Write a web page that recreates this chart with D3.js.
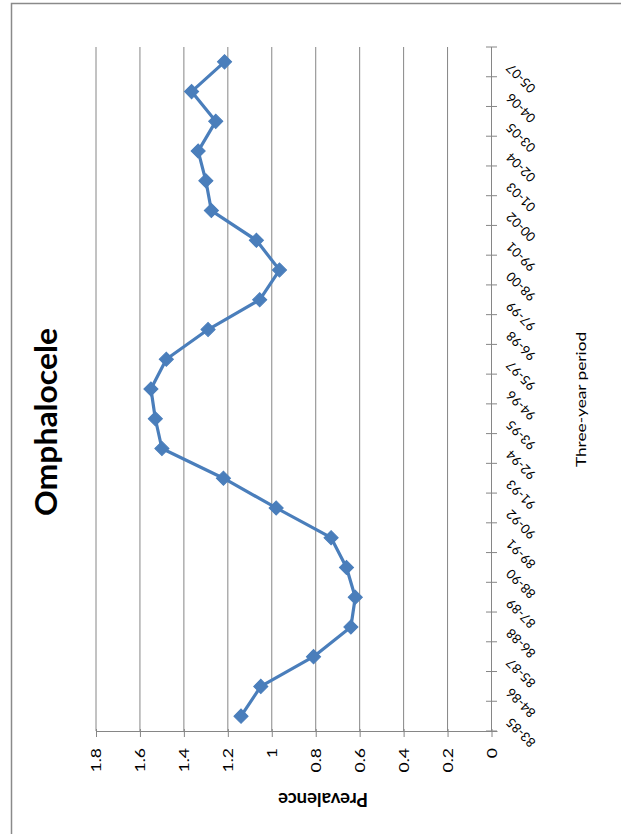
<!DOCTYPE html>
<html>
<head>
<meta charset="utf-8">
<script src="https://cdn.jsdelivr.net/npm/d3@7"></script>
<style>
  html, body { margin: 0; padding: 0; background: #fff; }
  svg { display: block; }
  text { font-family: Lato, "Liberation Sans", Arial, sans-serif; fill: #000; }
</style>
</head>
<body>
<svg id="chart" width="621" height="834"></svg>
<script>
// Three-year periods (oldest first)
const categories = ["83-85","84-86","85-87","86-88","87-89","88-90","89-91","90-92","91-93","92-94",
  "93-95","94-96","95-97","96-98","97-99","98-00","99-01","00-02","01-03","02-04","03-05","04-06","05-07"];
// Omphalocele prevalence for each period
const prevalence = [1.14,1.05,0.81,0.64,0.62,0.66,0.73,0.98,1.22,1.50,
  1.53,1.55,1.48,1.29,1.055,0.965,1.07,1.275,1.30,1.335,1.255,1.365,1.215];
// Value axis ticks
const valueTicks = [0,0.2,0.4,0.6,0.8,1,1.2,1.4,1.6,1.8];

const titleText = "Omphalocele";
const valueTitle = "Prevalence";
const categoryTitle = "Three-year period";

const svg = d3.select("#chart");
const gridColor = "#868686";
const seriesColor = "#4a7ebb";

// Page is laid out sideways: values run right-to-left, periods run bottom-to-top
const plot = { left: 96, right: 491.5, top: 47, bottom: 731 };

const x = d3.scaleLinear().domain([0, 1.8]).range([plot.right, plot.left]);
const y = d3.scaleBand().domain(categories).range([plot.bottom, plot.top]).paddingInner(0).paddingOuter(0);
const yc = c => y(c) + y.bandwidth() / 2;

// Outer frame
svg.append("path")
  .attr("d", `M11.5,834 L11.5,3.5 L621,3.5`)
  .attr("fill", "none").attr("stroke", "#8a8a8a").attr("stroke-width", 1.5);

// Gridlines
svg.append("g").selectAll("line").data(valueTicks.filter(v => v > 0)).join("line")
  .attr("x1", d => x(d)).attr("x2", d => x(d))
  .attr("y1", plot.top).attr("y2", plot.bottom)
  .attr("stroke", gridColor).attr("stroke-width", 1);

// Value axis along the bottom
const valueAxis = d3.axisBottom(x).tickValues(valueTicks).tickSize(6).tickFormat(d => String(d));
const gv = svg.append("g").attr("transform", `translate(0,${plot.bottom})`).call(valueAxis);
gv.select(".domain").attr("stroke", gridColor).attr("d", `M${plot.left},0.5H${plot.right + 6}`);
gv.selectAll(".tick line").attr("stroke", gridColor).attr("y1", -2);
gv.selectAll(".tick text")
  .attr("font-size", 13.5).attr("fill", "#000")
  .attr("text-anchor", "end")
  .attr("y", 0).attr("dy", "0.35em")
  .attr("transform", "translate(0,17) rotate(-90) scale(1.3,1)");

// Category axis along the right edge
const ga = svg.append("g");
ga.append("line")
  .attr("x1", plot.right).attr("x2", plot.right)
  .attr("y1", plot.top).attr("y2", plot.bottom)
  .attr("stroke", gridColor);
ga.selectAll("line.tick").data(categories.map(c => y(c) + y.bandwidth()).concat([plot.top])).join("line")
  .attr("class", "tick")
  .attr("x1", plot.right - 5.5).attr("x2", plot.right + 5.5)
  .attr("y1", d => d).attr("y2", d => d)
  .attr("stroke", gridColor);
ga.selectAll("text").data(categories).join("text")
  .attr("font-size", 13)
  .attr("text-anchor", "end")
  .attr("dy", "0.35em")
  .attr("transform", d => `translate(${plot.right + 17},${yc(d) + 4}) rotate(-135)`)
  .text(d => d);

// Series line
const line = d3.line().x(d => x(d.v)).y(d => yc(d.c));
const pts = categories.map((c, i) => ({ c, v: prevalence[i] }));
svg.append("path").datum(pts)
  .attr("d", line)
  .attr("fill", "none").attr("stroke", seriesColor).attr("stroke-width", 3.2)
  .attr("stroke-linejoin", "round");

// Diamond markers
const diamond = d3.symbol().type(d3.symbolSquare).size(100);
svg.append("g").selectAll("path").data(pts).join("path")
  .attr("d", diamond)
  .attr("transform", d => `translate(${x(d.v)},${yc(d.c)}) rotate(45)`)
  .attr("fill", seriesColor).attr("stroke", seriesColor).attr("stroke-width", 1);

// Chart title
svg.append("text")
  .attr("font-size", 30).attr("font-weight", "bold")
  .attr("text-anchor", "middle")
  .attr("transform", "translate(57,422) rotate(-90)")
  .attr("textLength", 188).attr("lengthAdjust", "spacingAndGlyphs")
  .text(titleText);

// Category axis title
svg.append("text")
  .attr("font-size", 14)
  .attr("text-anchor", "middle")
  .attr("transform", "translate(585.5,399.5) rotate(-90)")
  .attr("textLength", 135).attr("lengthAdjust", "spacingAndGlyphs")
  .text(categoryTitle);

// Value axis title
svg.append("text")
  .attr("font-size", 19).attr("font-weight", "bold")
  .attr("text-anchor", "middle")
  .attr("transform", "translate(323,793) rotate(180)")
  .attr("textLength", 90).attr("lengthAdjust", "spacingAndGlyphs")
  .text(valueTitle);
</script>
</body>
</html>
